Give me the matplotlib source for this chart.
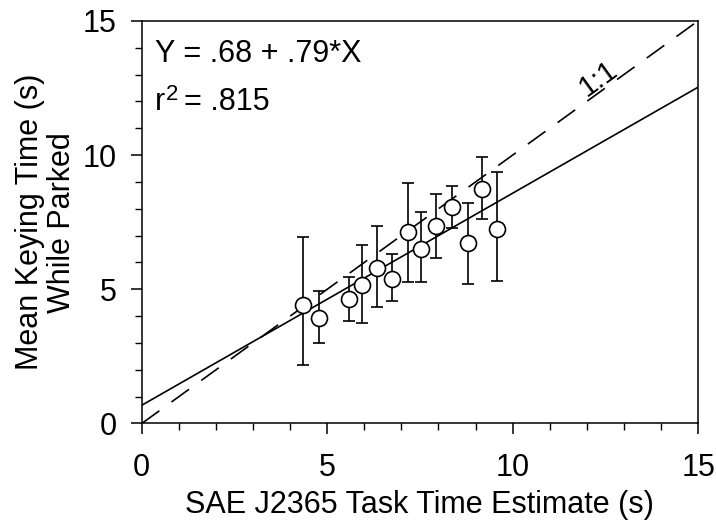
import numpy as np
import matplotlib
matplotlib.use("Agg")
import matplotlib.pyplot as plt

# estimated task time (x), mean keying time (y) and the error bar ends
sae_est = [4.34, 4.77, 5.60, 5.94, 6.35, 6.76, 7.18, 7.54, 7.94, 8.37, 8.80, 9.16, 9.57]
keying_mean = [4.41, 3.93, 4.64, 5.16, 5.78, 5.37, 7.14, 6.50, 7.36, 8.05, 6.71, 8.73, 7.24]
err_high = [6.96, 4.95, 5.47, 6.65, 7.37, 6.31, 8.95, 7.89, 8.54, 8.85, 8.20, 9.94, 9.38]
err_low = [2.18, 3.01, 3.83, 3.73, 4.35, 4.56, 5.28, 5.28, 6.15, 7.27, 5.18, 7.61, 5.31]

intercept = 0.68
slope = 0.79

plt.rcParams["font.family"] = ["Liberation Sans", "DejaVu Sans"]

fig = plt.figure(figsize=(7.16, 5.22), dpi=100)
ax = fig.add_axes([0.198, 0.1887, 0.777, 0.7713])

y = np.array(keying_mean)
yerr = [y - np.array(err_low), np.array(err_high) - y]

# regression and 1:1 lines
xs = np.array([0, 15])
ax.plot(xs, intercept + slope * xs, color="black", lw=1.2, zorder=2)
ax.plot(xs, xs, color="black", lw=1.2, dashes=(13, 9), zorder=2)

ax.errorbar(sae_est, keying_mean, yerr=yerr, fmt="o", ms=11.5, mfc="white",
            mec="black", mew=1.2, ecolor="black", elinewidth=1.2,
            capsize=4.5, capthick=1.2, zorder=3)

# equation text
ax.text(0.36, 13.47, "Y = .68 + .79*X", fontsize=22, va="baseline")
ax.text(0.36, 11.68, "r", fontsize=22, va="baseline")
ax.annotate("2", xy=(0.36, 11.68), xytext=(7.5, 7.5), textcoords="offset points",
            fontsize=16, va="baseline")
ax.annotate("= .815", xy=(0.36, 11.68), xytext=(21, 0), textcoords="offset points",
            fontsize=22, va="baseline")
ax.text(12.3, 12.85, "1:1", fontsize=21, rotation=36,
        rotation_mode="anchor", ha="center", va="center")

ax.set_xlim(0, 15)
ax.set_ylim(0, 15)
ax.set_xticks([0, 5, 10, 15])
ax.set_yticks([0, 5, 10, 15])
ax.set_xticks(np.arange(0, 16, 1), minor=True)
ax.set_yticks(np.arange(0, 16, 1), minor=True)
ax.tick_params(which="major", direction="out", length=8, width=1.1, labelsize=22)
ax.tick_params(axis="x", which="major", pad=13)
ax.tick_params(axis="y", which="major", pad=10)
ax.tick_params(which="minor", direction="out", length=5, width=1.0)
for s in ax.spines.values():
    s.set_linewidth(1.1)

ax.set_xlabel("SAE J2365 Task Time Estimate (s)", fontsize=22, labelpad=5)
ax.set_ylabel("Mean Keying Time (s)\nWhile Parked", fontsize=22, labelpad=4,
              linespacing=1.1)

fig.savefig("out.png", dpi=100)
